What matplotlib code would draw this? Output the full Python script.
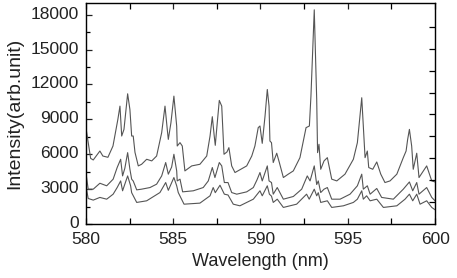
import matplotlib
matplotlib.use("Agg")
import matplotlib.pyplot as plt
import matplotlib.transforms as mtransforms
from matplotlib.ticker import MultipleLocator

# ---- data ----
top_wl = [580.00, 580.27, 580.42, 580.80, 580.97, 581.26, 581.55, 581.83, 581.95, 582.05,
          582.18, 582.39, 582.52, 582.62, 582.71, 582.81, 583.00, 583.19, 583.48, 583.77,
          584.05, 584.34, 584.53, 584.66, 584.72, 584.87, 585.04, 585.20, 585.23, 585.39,
          585.52, 585.67, 586.06, 586.53, 586.92, 587.11, 587.24, 587.35, 587.41, 587.49,
          587.64, 587.78, 587.91, 588.08, 588.19, 588.35, 588.54, 589.21, 589.50, 589.68,
          589.87, 589.97, 590.10, 590.26, 590.39, 590.49, 590.54, 590.63, 590.73, 590.93,
          591.08, 591.31, 591.59, 591.88, 592.26, 592.61, 592.80, 592.89, 593.08, 593.22,
          593.27, 593.35, 593.45, 593.64, 593.83, 594.08, 594.37, 594.84, 595.32, 595.55,
          595.80, 595.89, 595.99, 596.12, 596.20, 596.43, 596.66, 596.89, 597.13, 597.42,
          597.81, 598.18, 598.34, 598.43, 598.53, 598.66, 598.75, 598.95, 599.08, 599.52,
          599.81, 600.00]
top_int = [8300, 5650, 5510, 6280, 5850, 5740, 6710, 9000, 10140, 7570,
           8140, 11200, 9850, 7570, 7570, 6170, 5000, 5140, 5570, 5430,
           5850, 7860, 10140, 8140, 7280, 8710, 11000, 8420, 6710, 7000,
           6710, 4570, 5000, 5140, 5850, 7570, 9230, 7570, 6770, 8140,
           10630, 10140, 6000, 6200, 6570, 5000, 4430, 5000, 5850, 6710,
           8290, 8430, 6940, 9280, 11570, 10140, 7140, 7000, 5290, 6090,
           5290, 4000, 4290, 4570, 5710, 8290, 8430, 11000, 18420, 10710,
           6140, 6860, 4710, 5430, 5710, 3860, 3710, 4290, 5570, 7000,
           10860, 8430, 5710, 6280, 4860, 4710, 5340, 4290, 3570, 3710,
           4290, 5710, 6280, 7280, 8140, 6710, 4710, 6090, 4000, 5000,
           3710, 3620]

mid_wl = [580.00, 580.13, 580.42, 580.80, 581.19, 581.56, 581.79, 581.99, 582.10, 582.23,
          582.39, 582.52, 582.62, 582.71, 582.91, 583.19, 583.67, 584.05, 584.34, 584.57,
          584.72, 584.91, 585.04, 585.20, 585.23, 585.39, 585.54, 586.15, 586.72, 587.01,
          587.24, 587.39, 587.64, 587.78, 587.93, 588.14, 588.35, 588.64, 589.21, 589.59,
          589.80, 589.97, 590.10, 590.39, 590.49, 590.63, 590.73, 590.96, 591.31, 591.88,
          592.36, 592.68, 592.84, 593.08, 593.22, 593.31, 593.45, 593.64, 593.83, 594.08,
          594.56, 595.13, 595.55, 595.80, 595.89, 596.12, 596.28, 596.66, 596.94, 597.61,
          598.18, 598.53, 598.72, 598.95, 599.08, 599.52, 599.81, 600.00]
mid_int = [4430, 3000, 3000, 3510, 3290, 3860, 4860, 5570, 4140, 4800,
           6140, 4710, 3860, 3700, 2940, 3000, 3140, 3430, 4140, 5290,
           4290, 4900, 6000, 4570, 3710, 3860, 2770, 2860, 3140, 3710,
           4860, 4000, 5290, 5000, 3570, 3570, 2710, 2570, 2770, 3140,
           3800, 4430, 3710, 5000, 3710, 3570, 2570, 3140, 2140, 2370,
           3000, 4140, 3710, 5000, 3400, 3710, 2710, 3000, 3140, 2140,
           2140, 2570, 3290, 4290, 3000, 3290, 2570, 3060, 2290, 2140,
           3000, 3620, 2860, 3570, 2570, 3140, 2290, 2000]

low_wl = [580.00, 580.13, 580.42, 580.80, 581.19, 581.56, 581.79, 581.99, 582.10, 582.39,
          582.56, 582.62, 582.91, 583.48, 584.24, 584.57, 584.72, 585.04, 585.20, 585.29,
          585.62, 586.53, 587.11, 587.29, 587.41, 587.68, 587.93, 588.14, 588.44, 588.82,
          589.59, 589.97, 590.10, 590.39, 590.51, 590.63, 590.73, 590.96, 591.31, 592.07,
          592.64, 592.79, 593.08, 593.22, 593.31, 593.45, 593.83, 594.08, 594.75, 595.32,
          595.55, 595.80, 595.89, 596.08, 596.28, 596.66, 597.04, 597.81, 598.28, 598.53,
          598.72, 598.95, 599.14, 599.52, 599.81, 600.00]
low_int = [3290, 2200, 2060, 2290, 2140, 2570, 3140, 3710, 2860, 4140,
           3290, 2700, 1860, 2000, 2710, 3570, 2900, 4000, 3290, 2710,
           1710, 1800, 2430, 3140, 2700, 3340, 2570, 2500, 1710, 1570,
           2140, 2860, 2430, 3290, 2570, 2400, 1860, 2140, 1430, 1710,
           2570, 2140, 3000, 2430, 2700, 1860, 2000, 1430, 1570, 1860,
           2140, 2860, 2140, 2430, 2000, 2140, 1430, 1570, 2140, 2570,
           2000, 2570, 1710, 2000, 1430, 1230]

x_ticks = [580, 585, 590, 595, 600]
y_ticks = [0, 3000, 6000, 9000, 12000, 15000, 18000]

# ---- figure ----
plt.rcParams['font.family'] = ['Liberation Sans', 'DejaVu Sans']
fig = plt.figure(figsize=(4.57, 2.78), dpi=100)
ax = fig.add_axes([0.188, 0.194, 0.764, 0.795])

line_col = '#555555'
for wl, it in ((top_wl, top_int), (mid_wl, mid_int), (low_wl, low_int)):
    ax.plot(wl, it, color=line_col, lw=0.8)

ax.set_xlim(580, 600)
ax.set_ylim(0, 19000)
ax.set_xticks(x_ticks)
ax.set_yticks(y_ticks)
ax.xaxis.set_minor_locator(MultipleLocator(2.5))
ax.yaxis.set_minor_locator(MultipleLocator(1500))
ax.tick_params(axis='x', which='major', direction='in', length=4, width=0.9,
               labelsize=12.5, colors='#222222', pad=6)
ax.tick_params(axis='y', which='major', direction='in', length=4, width=0.9,
               labelsize=12.5, colors='#222222', pad=5)
ax.tick_params(axis='both', which='minor', direction='in', length=3, width=0.9)
ax.tick_params(axis='x', which='both', top=True)
ax.tick_params(axis='x', which='minor', top=True, length=4)
ax.tick_params(axis='y', which='both', right=False)

# nudge y tick labels up slightly (as in the reference)
shift = mtransforms.ScaledTranslation(0, 1.5 / 72, fig.dpi_scale_trans)
for lab in ax.get_yticklabels():
    lab.set_transform(lab.get_transform() + shift)

for s in ax.spines.values():
    s.set_color('#333333')
    s.set_linewidth(1.0)

ax.set_xlabel('Wavelength (nm)', fontsize=13, labelpad=4, color='#222222')
ax.set_ylabel('Intensity(arb.unit)', fontsize=14, labelpad=5, color='#222222')

# right-side tick marks (independent spacing as in the reference)
ax2 = ax.twinx()
ax2.set_ylim(0, 19000 / 1885)
ax2.set_yticks(range(1, 10))
ax2.set_yticklabels([])
ax2.tick_params(axis='y', direction='in', length=4, width=0.9)

fig.savefig('out.png', dpi=100)
